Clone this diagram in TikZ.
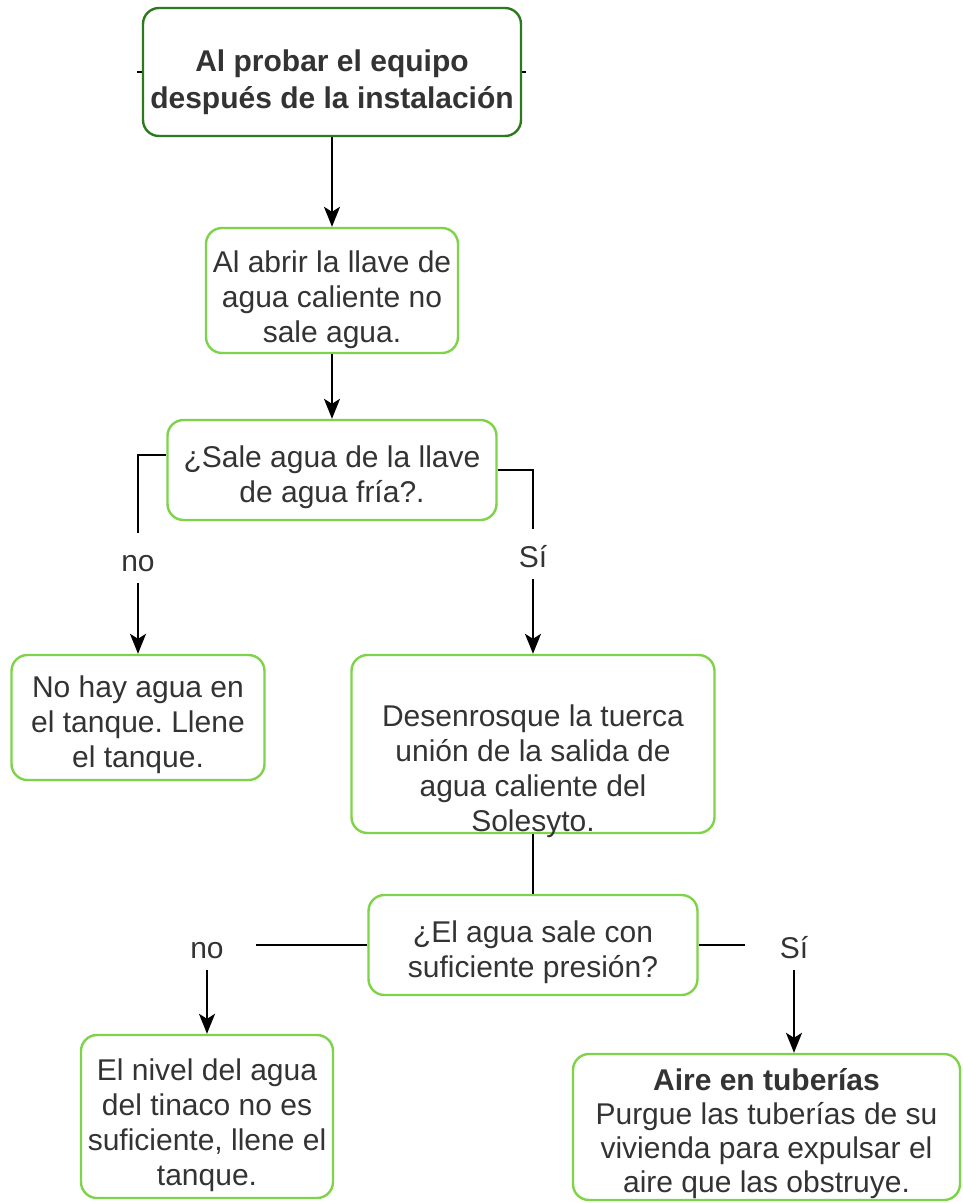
\documentclass[tikz,border=0pt]{standalone}
\usepackage{fontspec}
\setmainfont{Liberation Sans}
\usepackage{xcolor}
\usepackage{tikz}
\usetikzlibrary{arrows.meta,shapes,positioning}
\definecolor{forest}{HTML}{2D7A1E}
\definecolor{leaf}{HTML}{7ED348}
\frenchspacing
\newcommand{\bigfont}{\fontsize{30pt}{35pt}\selectfont}
\newcommand{\pad}[1]{\rule{0pt}{#1}}
\tikzstyle{block} = [rectangle, draw=leaf, line width=2.4pt, rounded corners=16pt,
    align=center, inner sep=0pt, text=black!80, font=\bigfont]
\tikzstyle{start} = [block, draw=forest]
\tikzstyle{answer} = [text=black!80, font=\bigfont, inner xsep=0pt, inner ysep=0pt,
    text height=38pt, text depth=12pt]
\tikzstyle{line} = [draw, line width=1.8pt, -{Stealth[length=20pt,width=16pt,inset=5pt]}]
\tikzstyle{link} = [draw, line width=1.8pt]

\begin{document}
\begin{tikzpicture}[x=1pt, y=-1pt]
\useasboundingbox (0,0) rectangle (963,1203);
    % Place nodes
    \node [start, minimum width=378pt, minimum height=128pt,
        font=\fontsize{30pt}{37pt}\selectfont] (init) at (332,72)
        {\pad{42pt}\textbf{Al probar el equipo}\\\textbf{después de la instalación}};
    \node [block, minimum width=252pt, minimum height=125pt] (llave) at (332,290.5)
        {\pad{41pt}Al abrir la llave de\\agua caliente no\\sale agua.};
    \node [block, minimum width=329pt, minimum height=100pt] (fria) at (332,470)
        {\pad{36pt}¿Sale agua de la llave\\de agua fría?.};
    \node [answer] (no1) at (138,558) {no};
    \node [answer] (si1) at (533,554) {Sí};
    \node [block, minimum width=253pt, minimum height=125pt] (tanque) at (138,717.5)
        {\pad{36pt}No hay agua en\\el tanque. Llene\\el tanque.};
    \node [block, minimum width=363pt, minimum height=178pt] (desen) at (533,744) {};
    \node [answer, text height=, text depth=, align=center] (desentxt) at (533,771)
        {Desenrosque la tuerca\\unión de la salida de\\agua caliente del\\Solesyto.};
    \node [block, minimum width=329pt, minimum height=100pt] (presion) at (533,945)
        {\pad{36pt}¿El agua sale con\\suficiente presión?};
    \node [answer, inner xsep=32pt] (no2) at (207,945) {no};
    \node [answer, inner xsep=35pt] (si2) at (794,945) {Sí};
    \node [block, minimum width=252pt, minimum height=163pt] (nivel) at (207,1116.5)
        {\pad{40pt}El nivel del agua\\del tinaco no es\\suficiente, llene el\\tanque.};
    \node [block, minimum width=387pt, minimum height=146pt,
        font=\fontsize{30pt}{34pt}\selectfont] (aire) at (766.5,1127)
        {\pad{36pt}\textbf{Aire en tuberías}\\Purgue las tuberías de su\\vivienda para expulsar el\\aire que las obstruye.};

    % Draw edges
    \path [link] (init.west) -- ++(-5,0);
    \path [link] (init.east) -- ++(4,0);
    \path [line] (init) -- (llave);
    \path [line] (llave) -- (fria);
    \path [link] ([yshift=15pt]fria.west) -| (no1);
    \path [line] (no1) -- (tanque);
    \path [link] (fria.east) -| (si1);
    \path [line] (si1) -- (desen);
    \path [link] (desen) -- (presion);
    \path [link] (presion) -- (no2);
    \path [line] (no2) -- (nivel);
    \path [link] (presion) -- (si2);
    \path [line] (si2) -- (si2 |- aire.north);
\end{tikzpicture}
\end{document}
